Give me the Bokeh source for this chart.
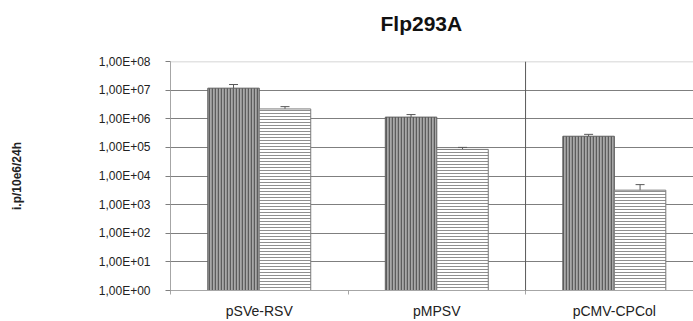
from bokeh.plotting import figure
from bokeh.models import (ColumnDataSource, Range1d, FixedTicker, Whisker,
                          TeeHead, Span, Title)
from bokeh.embed import file_html
from bokeh.resources import INLINE

# ---- data -------------------------------------------------------------
chart_title = "Flp293A"
y_title = "i.p/10e6/24h"
categories = ["pSVe-RSV", "pMPSV", "pCMV-CPCol"]

# first series (vertical stripes) and its standard deviation
series_a = [1.17e7, 1.14e6, 2.45e5]
series_a_err = [0.40e7, 0.26e6, 0.40e5]

# second series (horizontal stripes) and its standard deviation
series_b = [2.2e6, 8.5e4, 3.2e3]
series_b_err = [0.45e6, 1.5e4, 1.8e3]

ytick_values = [1e0, 1e1, 1e2, 1e3, 1e4, 1e5, 1e6, 1e7, 1e8]
ytick_labels = ["1,00E+00", "1,00E+01", "1,00E+02", "1,00E+03", "1,00E+04",
                "1,00E+05", "1,00E+06", "1,00E+07", "1,00E+08"]

# ---- layout helpers ---------------------------------------------------
FONT = "Liberation Sans"
BAR_W = 0.29
centers = [i + 0.5 for i in range(len(categories))]

src_a = ColumnDataSource(dict(
    x=[c - BAR_W / 2 for c in centers], top=series_a,
    upper=[v + e for v, e in zip(series_a, series_a_err)],
    lower=[v - e for v, e in zip(series_a, series_a_err)],
))
src_b = ColumnDataSource(dict(
    x=[c + BAR_W / 2 for c in centers], top=series_b,
    upper=[v + e for v, e in zip(series_b, series_b_err)],
    lower=[v - e for v, e in zip(series_b, series_b_err)],
))

p = figure(width=693, height=321, y_axis_type="log",
           x_range=Range1d(0, 2.946), y_range=Range1d(1, 1e8),
           output_backend="svg", toolbar_location=None,
           min_border_left=170, min_border_right=0,
           min_border_top=61, min_border_bottom=28)
p.outline_line_color = None
p.background_fill_color = "white"
p.border_fill_color = "white"

# chart title, lifted off the frame by a blank title row
p.title.text = ""
p.add_layout(Title(text=" ", text_font_size="12px", standoff=6), "above")
p.add_layout(Title(text=chart_title, align="left", offset=210, standoff=10,
                   text_font=FONT, text_font_size="21px",
                   text_font_style="bold", text_color="#111111"), "above")

# gridlines between the decades; the top one is lighter
p.xgrid.visible = False
p.ygrid.ticker = FixedTicker(ticks=ytick_values[1:-1])
p.ygrid.grid_line_color = "#7f7f7f"
p.ygrid.grid_line_width = 1
p.add_layout(Span(location=ytick_values[-1], dimension="width",
                  line_color="#c8c8c8", line_width=1.5))

# separator in front of the last group
p.add_layout(Span(location=2, dimension="height",
                  line_color="#5a5a5a", line_width=1))

# bars
p.vbar(x="x", top="top", bottom=1, width=BAR_W, source=src_a,
       fill_color="#a8a8a8", line_color="#5f5f5f", line_width=1,
       hatch_pattern="vertical_line", hatch_color="#5c5c5c",
       hatch_scale=3, hatch_weight=1.5)
p.vbar(x="x", top="top", bottom=1, width=BAR_W, source=src_b,
       fill_color="white", line_color="#7a7a7a", line_width=1,
       hatch_pattern="horizontal_line", hatch_color="#8f8f8f",
       hatch_scale=3, hatch_weight=1)

# error bars
for src in (src_a, src_b):
    p.add_layout(Whisker(source=src, base="x", upper="upper", lower="lower",
                         line_color="#595959", line_width=1,
                         upper_head=TeeHead(size=9, line_color="#595959", line_width=1),
                         lower_head=TeeHead(size=9, line_color="#595959", line_width=1)))

# y axis
yax = p.yaxis[0]
yax.ticker = FixedTicker(ticks=ytick_values)
yax.major_label_overrides = dict(zip(ytick_values, ytick_labels))
yax.axis_line_color = "#a6a6a6"
yax.major_tick_line_color = "#7f7f7f"
yax.major_tick_out = 5
yax.major_tick_in = 0
yax.minor_tick_line_color = None
yax.major_label_standoff = 15
yax.major_label_text_font = FONT
yax.major_label_text_font_size = "12px"
yax.major_label_text_color = "#222222"
yax.axis_label = y_title
yax.axis_label_text_font = FONT
yax.axis_label_text_font_size = "12px"
yax.axis_label_text_font_style = "bold"
yax.axis_label_text_color = "#222222"
yax.axis_label_standoff = 72

# x axis: labels at group centres, small ticks at group boundaries
xax = p.xaxis[0]
xax.ticker = FixedTicker(ticks=centers,
                         minor_ticks=list(range(len(categories) + 1)))
xax.major_label_overrides = dict(zip(centers, categories))
xax.major_tick_line_color = None
xax.major_tick_out = 0
xax.major_tick_in = 0
xax.minor_tick_line_color = "#a6a6a6"
xax.minor_tick_out = 4
xax.minor_tick_in = 0
xax.axis_line_color = "#a6a6a6"
xax.major_label_standoff = 8
xax.major_label_text_font = FONT
xax.major_label_text_font_size = "14px"
xax.major_label_text_color = "#222222"

open("out.html", "w").write(file_html(p, INLINE))
